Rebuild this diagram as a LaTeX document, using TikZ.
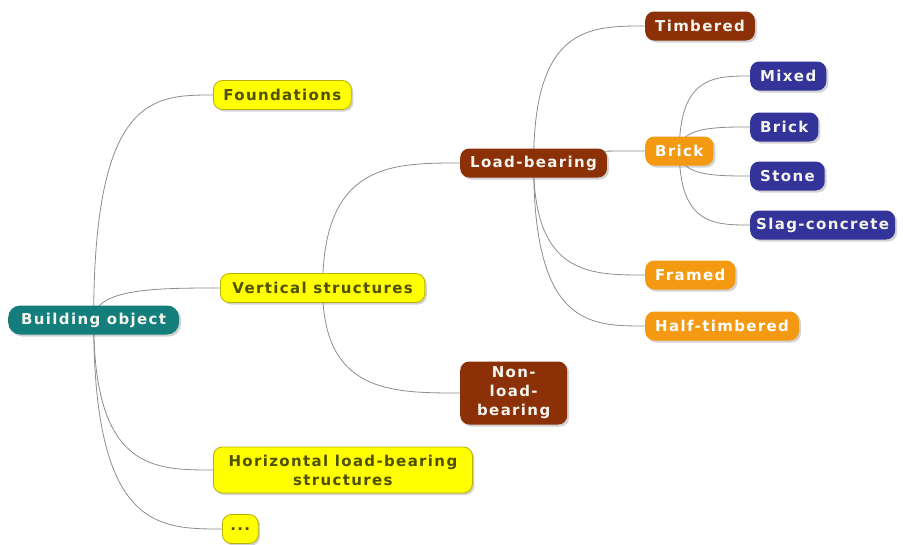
\documentclass[tikz,border=0pt]{standalone}
\usepackage{fontspec}
\usepackage{xcolor}
\usepackage{tikz}
\usetikzlibrary{calc,backgrounds,shadows}
\newfontfamily\mapfont[LetterSpace=9]{DejaVu Sans}
\definecolor{rootc}{HTML}{137E7C}
\definecolor{sun}{HTML}{FFFF00}
\definecolor{sunrim}{HTML}{B8B000}
\definecolor{suntext}{HTML}{4F5000}
\definecolor{rust}{HTML}{8C3008}
\definecolor{amber}{HTML}{F39A12}
\definecolor{ink}{HTML}{33339A}
\definecolor{wire}{HTML}{8C8C8C}
\definecolor{pale}{HTML}{F4F4EE}
\tikzset{
  topic/.style={rounded corners=9pt, minimum height=29pt, inner xsep=10pt, inner ysep=4pt,
    anchor=west, align=center, font=\mapfont\bfseries\fontsize{15}{19}\selectfont,
    drop shadow={opacity=0.35, shadow xshift=2pt, shadow yshift=-2pt}},
  root/.style={topic, fill=rootc, text=pale, rounded corners=12pt},
  yel/.style={topic, fill=sun, draw=sunrim, line width=0.8pt, text=suntext},
  brn/.style={topic, fill=rust, text=pale},
  org/.style={topic, fill=amber, text=white},
  blu/.style={topic, fill=ink, text=pale},
  link/.style={draw=wire, line width=0.8pt,
    to path={.. controls (\tikztostart |- \tikztotarget) and ($(\tikztostart |- \tikztotarget)!0.5!(\tikztotarget)$) .. (\tikztotarget)}},
}
\begin{document}
\begin{tikzpicture}[x=1pt,y=-1pt]
\useasboundingbox (0,0) rectangle (903,544);
% level 0 and 1
\node[root, inner xsep=13pt] (bo) at (8,320) {Building object};
\node[yel] (fd) at (213,95) {Foundations};
\node[yel, inner xsep=12pt] (vs) at (220,288) {Vertical structures};
\node[yel, minimum height=46pt, minimum width=259pt] (hz) at (213,470) {Horizontal load-bearing\\structures};
\node[yel, inner xsep=8pt] (dt) at (222,529) {...};
% walls
\node[brn] (lb) at (460,163) {Load-bearing};
\node[brn, minimum height=63pt, minimum width=107pt] (nl) at (460,393) {Non-\\load-\\bearing};
% load-bearing kinds
\node[brn] (tb) at (645,26) {Timbered};
\node[org] (br) at (645,151) {Brick};
\node[org] (fr) at (645,275) {Framed};
\node[org] (ht) at (645,326) {Half-timbered};
% brick kinds
\node[blu] (mx) at (750,76) {Mixed};
\node[blu] (bb) at (750,127) {Brick};
\node[blu] (st) at (750,176) {Stone};
\node[blu, inner xsep=6pt] (sc) at (750,225) {Slag-concrete};
\begin{scope}[on background layer]
\foreach \p/\c in {bo/fd,bo/vs,bo/hz,bo/dt,vs/lb,vs/nl,lb/tb,lb/br,lb/fr,lb/ht,br/mx,br/bb,br/st,br/sc}
  \draw[link] (\p.center) to (\c.west);
\end{scope}
\end{tikzpicture}
\end{document}
